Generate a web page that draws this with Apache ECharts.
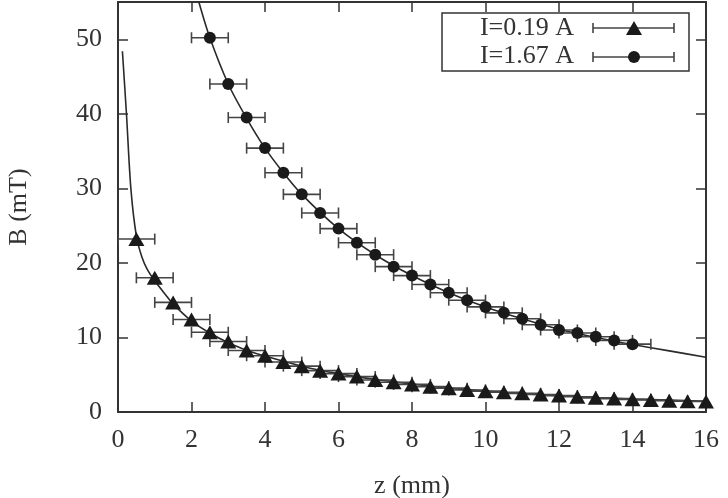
<!DOCTYPE html>
<html><head><meta charset="utf-8">
<script src="https://cdn.jsdelivr.net/npm/echarts@6/dist/echarts.min.js"></script>
<style>html,body{margin:0;padding:0;background:#fff}#c{width:728px;height:498px}</style>
</head><body><div id="c"></div>
<script>
// ---- data ----
const lowName = 'I=0.19 A';
const highName = 'I=1.67 A';
const lowZ = [0.5,1,1.5,2,2.5,3,3.5,4,4.5,5,5.5,6,6.5,7,7.5,8,8.5,9,9.5,10,10.5,11,11.5,12,12.5,13,13.5,14,14.5,15,15.5,16];
const lowB = [23.2,18.0,14.7,12.4,10.7,9.45,8.25,7.55,6.7,6.15,5.55,5.15,4.75,4.3,4.0,3.7,3.4,3.2,2.95,2.8,2.65,2.5,2.35,2.2,2.05,1.9,1.8,1.7,1.6,1.5,1.45,1.4];
const highZ = [2.5,3,3.5,4,4.5,5,5.5,6,6.5,7,7.5,8,8.5,9,9.5,10,10.5,11,11.5,12,12.5,13,13.5,14];
const highB = [50.2,44.0,39.5,35.4,32.1,29.2,26.7,24.6,22.7,21.1,19.5,18.3,17.1,16.0,15.0,14.1,13.3,12.5,11.7,11.0,10.6,10.1,9.6,9.1];
const zErr = 0.5;
// fitted curves
const lowFitZ = [0.12,0.23,0.35,0.5,0.65,0.8,1,1.25,1.5,2,2.5,3,3.5,4,5,6,7,8,9,10,11,12,13,14,15,16];
const lowFitB = [48.4,40,30,23.6,20.8,19.1,17.6,16.0,14.5,12.2,10.6,9.3,8.3,7.5,6.15,5.15,4.35,3.75,3.2,2.8,2.45,2.2,1.95,1.75,1.6,1.45];
const highFitZ = [2.2,2.5,3,3.5,4,4.5,5,6,7,8,9,10,11,12,13,14,15,16];
const highFitB = [55,50.2,44.0,39.4,35.4,32.1,29.2,24.6,21.1,18.3,16.0,14.1,12.5,11.1,10.0,9.05,8.2,7.35];
const xTicks = [0,2,4,6,8,10,12,14,16];
const yTicks = [0,10,20,30,40,50];

const FONT = 'Liberation Serif';
const INK = '#1a1a1a';
const BAR = '#444';
const zip = (a,b)=>a.map((v,i)=>[v,b[i]]);

function errItem(params, api){
  const x = api.value(0), y = api.value(1), e = api.value(2);
  const p1 = api.coord([x-e,y]), p2 = api.coord([x+e,y]);
  const h = 5.5, st = {stroke: BAR, lineWidth: 1.6};
  return {type:'group', children:[
    {type:'line', shape:{x1:p1[0],y1:p1[1],x2:p2[0],y2:p2[1]}, style:st},
    {type:'line', shape:{x1:p1[0],y1:p1[1]-h,x2:p1[0],y2:p1[1]+h}, style:st},
    {type:'line', shape:{x1:p2[0],y1:p2[1]-h,x2:p2[0],y2:p2[1]+h}, style:st}
  ]};
}

const axX = (pos, labels) => ({
  type:'value', position:pos, min:xTicks[0], max:xTicks[xTicks.length-1], interval:2,
  axisLine:{show:true, onZero:false, lineStyle:{color:'#333', width:2}},
  axisTick:{show:true, inside:true, length:10, lineStyle:{color:'#333', width:1.5}},
  axisLabel:{show:labels, color:'#333', fontFamily:FONT, fontSize:26, margin:15},
  splitLine:{show:false},
  name: labels ? 'z (mm)' : '', nameLocation:'middle', nameGap:61,
  nameTextStyle:{color:'#333', fontFamily:FONT, fontSize:26}
});
const axY = (pos, labels) => ({
  type:'value', position:pos, min:yTicks[0], max:55, interval:10,
  axisLine:{show:true, onZero:false, lineStyle:{color:'#333', width:2}},
  axisTick:{show:true, inside:true, length:10, lineStyle:{color:'#333', width:1.5}},
  axisLabel:{show:labels, color:'#333', fontFamily:FONT, fontSize:26, margin:16, showMaxLabel:false},
  splitLine:{show:false},
  name: labels ? 'B (mT)' : '', nameLocation:'middle', nameGap:86, nameRotate:90,
  nameTextStyle:{color:'#333', fontFamily:FONT, fontSize:26}
});

const chart = echarts.init(document.getElementById('c'), null, {renderer:'canvas'});
const legX = 442, legY = 13, legW = 247, legH = 58;
chart.setOption({
  animation:false,
  grid:{left:118, right:22, top:2, bottom:86, containLabel:false, outerBoundsMode:'none'},
  xAxis:[axX('bottom', true), axX('top', false)],
  yAxis:[axY('left', true), axY('right', false)],
  series:[
    {type:'line', data:zip(lowFitZ, lowFitB), smooth:0.3, showSymbol:false, clip:true,
     lineStyle:{color:'#2a2a2a', width:1.6}, z:2},
    {type:'line', data:zip(highFitZ, highFitB), smooth:0.3, showSymbol:false, clip:true,
     lineStyle:{color:'#2a2a2a', width:1.6}, z:2},
    {type:'custom', name:lowName, data:lowZ.map((z,i)=>[z, lowB[i], zErr]), renderItem:errItem, clip:true, z:3},
    {type:'custom', name:highName, data:highZ.map((z,i)=>[z, highB[i], zErr]), renderItem:errItem, clip:true, z:3},
    {type:'scatter', name:lowName, data:zip(lowZ, lowB), symbol:'triangle', symbolSize:[16,14],
     itemStyle:{color:INK, opacity:1}, clip:false, z:4},
    {type:'scatter', name:highName, data:zip(highZ, highB), symbol:'circle', symbolSize:12,
     itemStyle:{color:INK, opacity:1}, z:4}
  ],
  graphic:[
    {type:'rect', shape:{x:legX, y:legY, width:legW, height:legH}, style:{fill:'#fff', stroke:'#333', lineWidth:1.5}, z:10},
    {type:'text', x:574, y:28, style:{text:lowName, font:'26px "Liberation Serif"', fill:'#333', align:'right', verticalAlign:'middle'}, z:11},
    {type:'text', x:574, y:56, style:{text:highName, font:'26px "Liberation Serif"', fill:'#333', align:'right', verticalAlign:'middle'}, z:11},
    {type:'group', z:11, children:[
      {type:'line', shape:{x1:593,y1:28,x2:674,y2:28}, style:{stroke:BAR, lineWidth:1.6}, z:11},
      {type:'line', shape:{x1:593,y1:23,x2:593,y2:33}, style:{stroke:BAR, lineWidth:1.6}, z:11},
      {type:'line', shape:{x1:674,y1:23,x2:674,y2:33}, style:{stroke:BAR, lineWidth:1.6}, z:11},
      {type:'polygon', shape:{points:[[634,21],[626,35],[642,35]]}, style:{fill:INK}, z:12},
      {type:'line', shape:{x1:593,y1:57,x2:674,y2:57}, style:{stroke:BAR, lineWidth:1.6}, z:11},
      {type:'line', shape:{x1:593,y1:52,x2:593,y2:62}, style:{stroke:BAR, lineWidth:1.6}, z:11},
      {type:'line', shape:{x1:674,y1:52,x2:674,y2:62}, style:{stroke:BAR, lineWidth:1.6}, z:11},
      {type:'circle', shape:{cx:634, cy:57, r:6}, style:{fill:INK}, z:12}
    ]}
  ]
});
</script></body></html>
